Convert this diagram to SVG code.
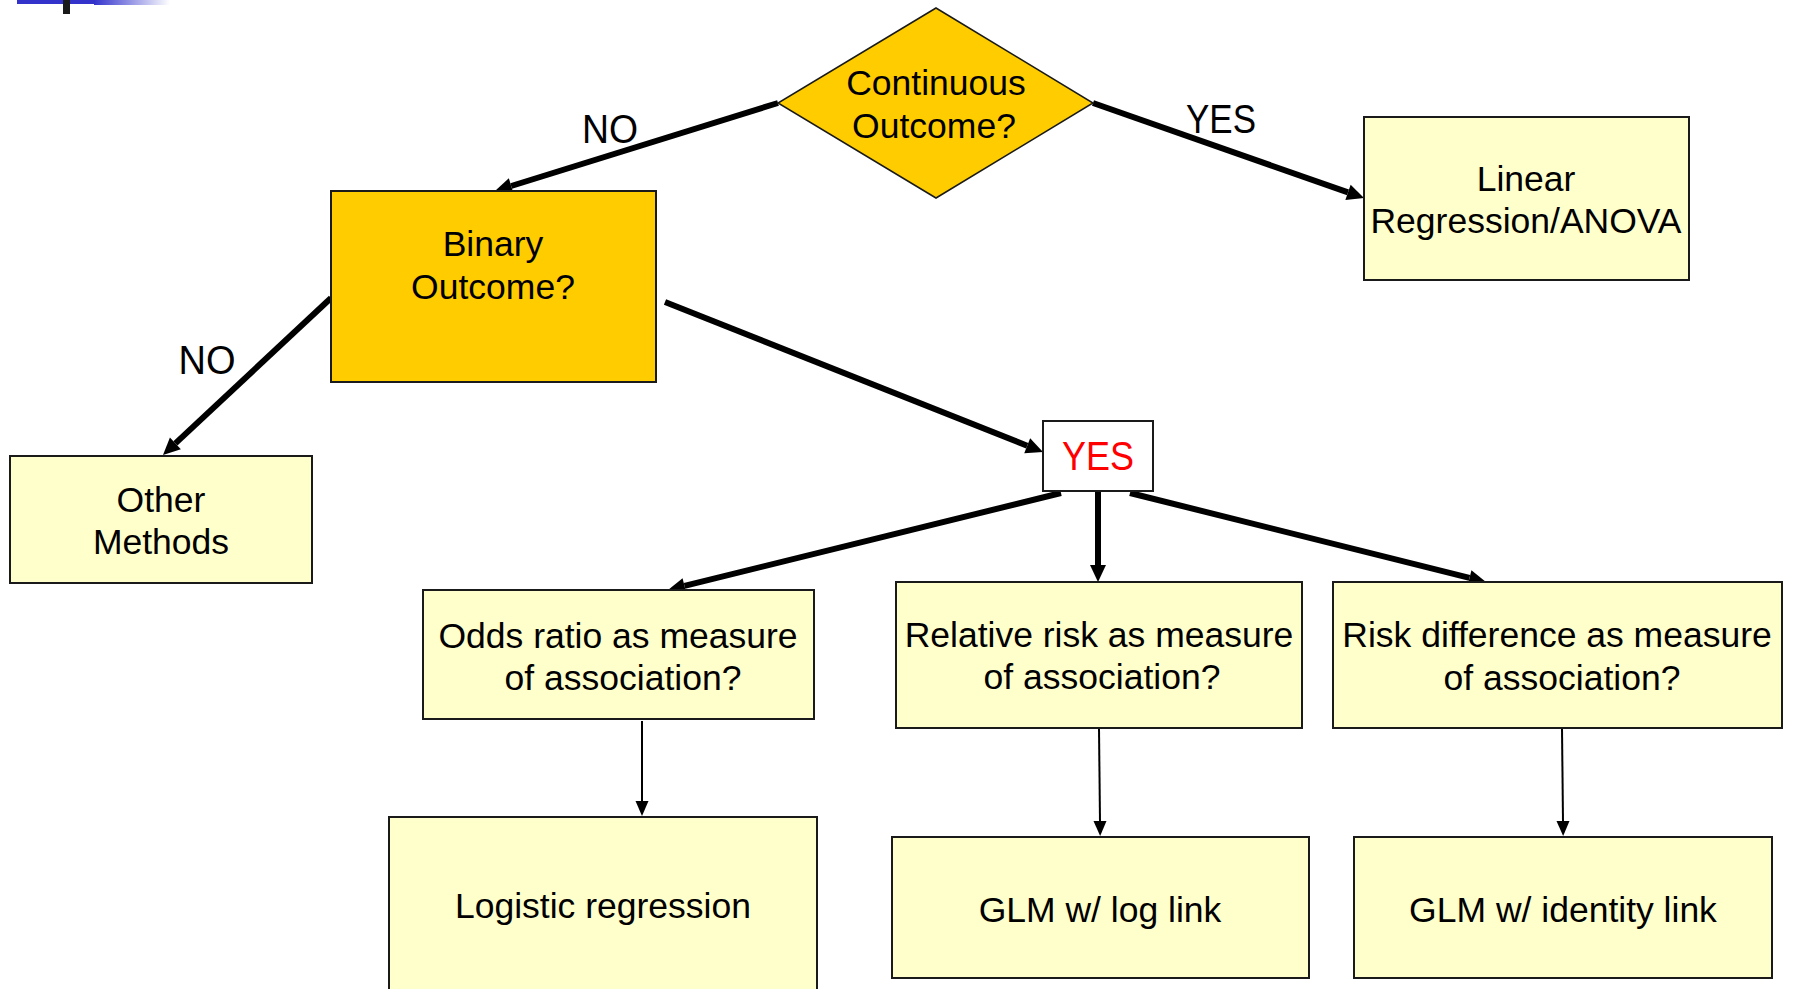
<svg xmlns="http://www.w3.org/2000/svg" width="1798" height="989" viewBox="0 0 1798 989">
<style>
text{font-family:"Liberation Sans",Arial,sans-serif;font-size:35.5px;fill:#000;text-anchor:middle}
.lbl{font-size:40px}
.gold{fill:#FFCC00;stroke:#1a1a1a;stroke-width:2}
.pale{fill:#FFFFCC;stroke:#1a1a1a;stroke-width:2}
.thick{stroke:#000;stroke-width:6;fill:none;marker-end:url(#ah)}
.thin{stroke:#000;stroke-width:2;fill:none;marker-end:url(#ahs)}
</style>
<defs>
<marker id="ah" markerUnits="userSpaceOnUse" markerWidth="17" markerHeight="16" refX="0" refY="8" orient="auto" overflow="visible"><path d="M0,0 L17,8 L0,16 z" fill="#000"/></marker>
<marker id="ahs" markerUnits="userSpaceOnUse" markerWidth="15" markerHeight="13" refX="0" refY="6.5" orient="auto" overflow="visible"><path d="M0,0 L15,6.5 L0,13 z" fill="#000"/></marker>
<linearGradient id="fade" x1="0" y1="0" x2="1" y2="0"><stop offset="0" stop-color="#3333CC"/><stop offset="1" stop-color="#3333CC" stop-opacity="0"/></linearGradient>
</defs>
<rect width="1798" height="989" fill="#fff"/>
<g id="decor">
<rect x="17" y="0" width="78" height="4" fill="#3333CC"/>
<rect x="94" y="0" width="76" height="5" fill="url(#fade)"/>
<rect x="63" y="0" width="7" height="14" fill="#1a1a1a"/>
</g>
<g id="connectors">
<line class="thick" x1="778" y1="103" x2="511.2" y2="186"/>
<line class="thick" x1="1093" y1="103" x2="1348" y2="192.4"/>
<line class="thick" x1="331" y1="298" x2="175.4" y2="443.4"/>
<line class="thick" x1="665" y1="302" x2="1027.2" y2="445.7"/>
<line class="thick" x1="1061" y1="493" x2="684.5" y2="585.9"/>
<line class="thick" x1="1098" y1="491" x2="1098" y2="565"/>
<line class="thick" x1="1130" y1="493" x2="1469.5" y2="577.9"/>
<line class="thin" x1="642" y1="721" x2="642" y2="801"/>
<line class="thin" x1="1099" y1="728" x2="1100" y2="821"/>
<line class="thin" x1="1562" y1="728" x2="1563" y2="821"/>
<text class="lbl" x="610" y="143" textLength="56" lengthAdjust="spacingAndGlyphs">NO</text>
<text class="lbl" x="1221" y="133" textLength="70" lengthAdjust="spacingAndGlyphs">YES</text>
<text class="lbl" x="207" y="374" textLength="57" lengthAdjust="spacingAndGlyphs">NO</text>
</g>
<g id="continuous">
<polygon points="936,8 1093,103 936,198 778,103" fill="#FFCC00" stroke="#1a1a1a" stroke-width="1.5"/>
<text x="936" y="95">Continuous</text>
<text x="934" y="138">Outcome?</text>
</g>
<g id="binary">
<rect class="gold" x="331" y="191" width="325" height="191"/>
<text x="493" y="256">Binary</text>
<text x="493" y="299">Outcome?</text>
</g>
<g id="linear">
<rect class="pale" x="1364" y="117" width="325" height="163"/>
<text x="1526" y="191">Linear</text>
<text x="1526" y="233">Regression/ANOVA</text>
</g>
<g id="other">
<rect class="pale" x="10" y="456" width="302" height="127"/>
<text x="161" y="512">Other</text>
<text x="161" y="554">Methods</text>
</g>
<g id="yes">
<rect x="1043" y="421" width="110" height="70" fill="#fff" stroke="#1a1a1a" stroke-width="2"/>
<text x="1098" y="470" style="fill:#FF0000;font-size:40px" textLength="72" lengthAdjust="spacingAndGlyphs">YES</text>
</g>
<g id="odds">
<rect class="pale" x="423" y="590" width="391" height="129"/>
<text x="618" y="648">Odds ratio as measure</text>
<text x="623" y="690">of association?</text>
</g>
<g id="relative">
<rect class="pale" x="896" y="582" width="406" height="146"/>
<text x="1099" y="647">Relative risk as measure</text>
<text x="1102" y="689">of association?</text>
</g>
<g id="riskdiff">
<rect class="pale" x="1333" y="582" width="449" height="146"/>
<text x="1557" y="647">Risk difference as measure</text>
<text x="1562" y="690">of association?</text>
</g>
<g id="logistic">
<rect class="pale" x="389" y="817" width="428" height="190"/>
<text x="603" y="918">Logistic regression</text>
</g>
<g id="glmlog">
<rect class="pale" x="892" y="837" width="417" height="141"/>
<text x="1100" y="922">GLM w/ log link</text>
</g>
<g id="glmid">
<rect class="pale" x="1354" y="837" width="418" height="141"/>
<text x="1563" y="922">GLM w/ identity link</text>
</g>
</svg>
